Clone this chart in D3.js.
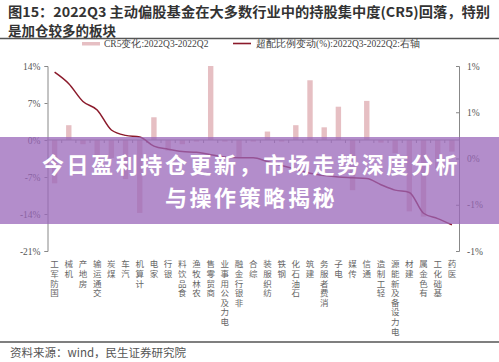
<!DOCTYPE html>
<html>
<head>
<meta charset="utf-8">
<script src="https://cdn.jsdelivr.net/npm/d3@7"></script>
<style>
  body{margin:0;background:#fff}
  svg{display:block}
</style>
</head>
<body>
<div id="graph"></div>
<script>
// categories, left to right
let categories=["国防军工","机械","房地产","交通运输","煤炭","汽车","计算机","家电","银行","食品饮料","农林牧渔","商贸零售","电力及公用事业","非银行金融","综合","纺织服装","钢铁","石油石化","建筑","消费者服务","电子","传媒","通信","轻工制造","电力设备及新能源","建材","有色金属","基础化工","医药"]
// CR5变化 (%), left axis
let cr5Change=[-8.2,2.8,-0.8,-4.2,-3.4,-7.4,-13.8,4.3,-2.0,-0.8,-0.3,14.0,-0.3,-3.2,-0.3,1.6,-0.3,2.8,11.3,2.4,6.3,-9.5,7.4,-0.5,-2.5,-13.5,-14.5,-5.5,-2.2]
// 超配比例变动 (%), right axis
let overweightChange=[1.12,0.97,0.74,0.63,0.37,0.30,0.28,0.16,0.12,0.09,0.08,0.05,0.02,0.01,0.01,-0.04,-0.09,-0.14,-0.19,-0.22,-0.24,-0.25,-0.26,-0.34,-0.41,-0.44,-0.71,-0.78,-0.86]
let leftTicks=[14,7,0,-7,-14,-21]
let rightTicks=[1.2,0.6,0,-0.6,-1.2]

let width=499, height=362
let svg=d3.select("#graph").append("svg")
.attr("width",width)
.attr("height",height)
.style("font-family","'Noto Sans CJK SC',sans-serif")

// title
let title=svg.append("g").style("font-weight","bold").style("font-size","13.5px").attr("fill","#333")
title.append("text").attr("x",8).attr("y",17).attr("textLength",482).attr("lengthAdjust","spacingAndGlyphs")
.text("图15：2022Q3 主动偏股基金在大多数行业中的持股集中度(CR5)回落，特别")
title.append("text").attr("x",8).attr("y",35.5).text("是加仓较多的板块")
svg.append("line").attr("x1",0).attr("x2",width).attr("y1",38.5).attr("y2",38.5).attr("stroke","#555").attr("stroke-width",1.6)

// scales
let x=d3.scaleBand().domain(categories).range([47.5,459]).padding(0)
let yLeft=d3.scaleLinear().domain([-21,14]).range([251,66])
let yRight=d3.scaleLinear().domain([-1.2,1.2]).range([251,66])
let barW=x.step()*0.38
let cx=d=>x(d)+x.bandwidth()/2

let serif="'Liberation Serif','DejaVu Serif',serif"
let fmt=v=>(v<0?"-":"")+d3.format(".0f")(Math.abs(v))+"%"

// legend
let legend=svg.append("g").style("font-family",serif).style("font-size","9.5px").attr("fill","#444")
legend.append("rect").attr("x",82).attr("y",42).attr("width",18).attr("height",3.5).attr("fill","#e6bfc3")
legend.append("text").attr("x",104).attr("y",47).text("CR5变化:2022Q3-2022Q2")
legend.append("line").attr("x1",233).attr("x2",251).attr("y1",43.5).attr("y2",43.5).attr("stroke","#8b1a2b").attr("stroke-width",1.6)
legend.append("text").attr("x",256).attr("y",47).text("超配比例变动(%):2022Q3-2022Q2:右轴")

// bars
svg.append("g").selectAll("rect")
.data(cr5Change)
.enter().append("rect")
.attr("x",(d,i)=>cx(categories[i])-barW/2)
.attr("width",barW)
.attr("y",d=>yLeft(Math.max(0,d)))
.attr("height",d=>Math.abs(yLeft(d)-yLeft(0)))
.attr("fill","#e6bfc3")

// axes
let leftAxis=svg.append("g").attr("transform","translate(47.5,0)")
.call(d3.axisLeft(yLeft).tickValues(leftTicks).tickSize(3).tickFormat(fmt))
let rightAxis=svg.append("g").attr("transform","translate(459,0)")
.call(d3.axisRight(yRight).tickValues(rightTicks).tickSize(-3).tickPadding(8).tickFormat(fmt))
;[leftAxis,rightAxis].forEach(a=>{
  a.select(".domain").attr("stroke","#888")
  a.selectAll(".tick line").attr("stroke","#888")
  a.selectAll("text").style("font-family",serif).style("font-size","9.5px").attr("fill","#555")
})
leftAxis.selectAll("text").attr("x",-7)

// zero line with category ticks
let zero=svg.append("g").attr("transform",`translate(0,${yLeft(0)})`)
zero.append("line").attr("x1",47.5).attr("x2",459).attr("stroke","#999")
zero.selectAll(".ct").data(categories.slice(1)).enter().append("line")
.attr("x1",d=>x(d)).attr("x2",d=>x(d)).attr("y1",0).attr("y2",3).attr("stroke","#999")

// line on right axis
let line=d3.line().x((d,i)=>cx(categories[i])).y(d=>yRight(d)).curve(d3.curveMonotoneX)
svg.append("path").datum(overweightChange)
.attr("d",line)
.attr("fill","none")
.attr("stroke","#8b1a2b")
.attr("stroke-width",1.5)

// category labels, vertical, upright chars read bottom to top
svg.append("g").selectAll("text")
.data(categories)
.enter().append("text")
.attr("x",d=>cx(d))
.attr("y",260)
.style("writing-mode","vertical-rl")
.style("text-orientation","upright")
.style("font-size","8.5px")
.style("letter-spacing","1.1px")
.attr("fill","#666")
.text(d=>d.split("").reverse().join(""))

// source
svg.append("line").attr("x1",0).attr("x2",width).attr("y1",342).attr("y2",342).attr("stroke","#555").attr("stroke-width",1.6)
svg.append("text").attr("x",10).attr("y",357).style("font-size","11.5px").attr("fill","#555").text("资料来源：wind，民生证券研究院")

// banner overlay
svg.append("rect").attr("x",0).attr("y",137).attr("width",width).attr("height",87).attr("fill","rgba(154,103,186,0.75)")
let banner=svg.append("g").attr("fill","#fff").style("font-weight","bold").style("font-size","22px").attr("text-anchor","middle")
.style("letter-spacing","2.6px")
banner.append("text").attr("x",251).attr("y",173).text("今日盈利持仓更新，市场走势深度分析")
banner.append("text").attr("x",251).attr("y",206).text("与操作策略揭秘")
</script>
</body>
</html>
